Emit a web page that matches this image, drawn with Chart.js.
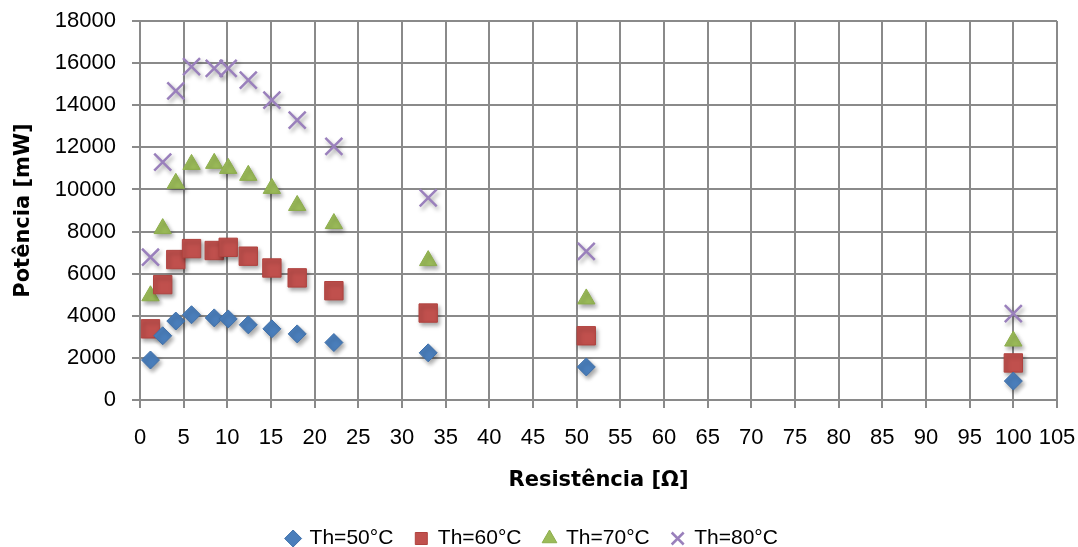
<!DOCTYPE html>
<html>
<head>
<meta charset="utf-8">
<script src="https://cdn.jsdelivr.net/npm/chart.js@4/dist/chart.umd.min.js"></script>
<style>
  html, body { margin: 0; padding: 0; background: #fff; }
  #wrap { width: 1078px; height: 547px; }
</style>
</head>
<body>
<div id="wrap"><canvas id="chart"></canvas></div>
<script>
// resistances (ohm)
const resist = [1.2, 2.6, 4.1, 5.9, 8.5, 10.1, 12.4, 15.1, 18, 22.2, 33, 51.1, 100];

// power in mW for each hot-side temperature
const th50 = [1900, 3050, 3750, 4050, 3900, 3850, 3570, 3380, 3140, 2730, 2240, 1570, 900];
const th60 = [3380, 5480, 6670, 7190, 7100, 7250, 6830, 6270, 5800, 5190, 4130, 3050, 1760];
const th70 = [4950, 8140, 10290, 11190, 11240, 11000, 10670, 10050, 9240, 8380, 6620, 4800, 2800];
const th80 = [6780, 11300, 14680, 15830, 15750, 15750, 15190, 14240, 13290, 12050, 9600, 7060, 4100];

const seriesNames = ["Th=50°C", "Th=60°C", "Th=70°C", "Th=80°C"];

function pts(ys) {
    return resist.map((x, i) => ({ x: x, y: ys[i] }));
}

// soft drop shadow under the markers, like the office chart
const shadowPlugin = {
    id: "shadow",
    beforeDatasetsDraw(chart) {
        const c = chart.ctx;
        c.save();
        c.shadowColor = "rgba(0,0,0,0.35)";
        c.shadowBlur = 4;
        c.shadowOffsetX = 2;
        c.shadowOffsetY = 3;
    },
    afterDatasetsDraw(chart) {
        chart.ctx.restore();
    }
};

const tickFont = { family: "Liberation Sans", size: 22 };
const titleFont = { family: "DejaVu Sans", size: 21, weight: "bold" };

const ctx = document.getElementById("chart").getContext("2d");

new Chart(ctx, {
    type: "scatter",
    data: {
        datasets: [
            {
                label: seriesNames[0], data: pts(th50),
                pointStyle: "rectRot", pointRadius: 9,
                backgroundColor: "#4A7EBB", borderColor: "#3F70AA", borderWidth: 1
            },
            {
                label: seriesNames[1], data: pts(th60),
                pointStyle: "rect", pointRadius: 13,
                backgroundColor: "#C0504D", borderColor: "#B0433F", borderWidth: 1
            },
            {
                label: seriesNames[2], data: pts(th70),
                pointStyle: "triangle", pointRadius: 10,
                backgroundColor: "#9BBB59", borderColor: "#8CAD4B", borderWidth: 1
            },
            {
                label: seriesNames[3], data: pts(th80),
                pointStyle: "crossRot", pointRadius: 12,
                backgroundColor: "#8064A2", borderColor: "#9A80BC", borderWidth: 2.5
            }
        ]
    },
    plugins: [shadowPlugin],
    options: {
        responsive: true,
        maintainAspectRatio: false,
        animation: false,
        layout: { padding: { left: 8, right: 21, top: 21, bottom: -12 } },
        scales: {
            x: {
                type: "linear",
                min: 0, max: 105,
                afterFit: function (scale) {
                    scale.height = 106;
                    scale.paddingRight = 0;
                },
                ticks: {
                    stepSize: 5,
                    color: "#000",
                    font: tickFont,
                    padding: 17,
                    callback: v => String(v)
                },
                grid: { color: "#8a8a8a", lineWidth: 2, tickLength: 8 },
                border: { color: "#8a8a8a", width: 2 },
                title: {
                    display: true,
                    text: "Resistência [Ω]",
                    color: "#000",
                    font: titleFont,
                    padding: { top: 6, bottom: 13 }
                }
            },
            y: {
                min: 0, max: 18000,
                afterFit: function (scale) {
                    scale.width = 132;
                    scale.paddingTop = 0;
                },
                ticks: {
                    stepSize: 2000,
                    color: "#000",
                    font: tickFont,
                    padding: 16,
                    callback: v => String(v)
                },
                grid: { color: "#8a8a8a", lineWidth: 2, tickLength: 8 },
                border: { color: "#8a8a8a", width: 2 },
                title: {
                    display: true,
                    text: "Potência [mW]",
                    color: "#000",
                    font: titleFont,
                    padding: { top: 3, bottom: 4 }
                }
            }
        },
        plugins: {
            legend: {
                position: "bottom",
                labels: {
                    usePointStyle: true,
                    boxWidth: 12,
                    boxHeight: 12,
                    padding: 22,
                    color: "#000",
                    font: { family: "Liberation Sans", size: 21 }
                }
            },
            tooltip: { enabled: false }
        }
    }
});
</script>
</body>
</html>
